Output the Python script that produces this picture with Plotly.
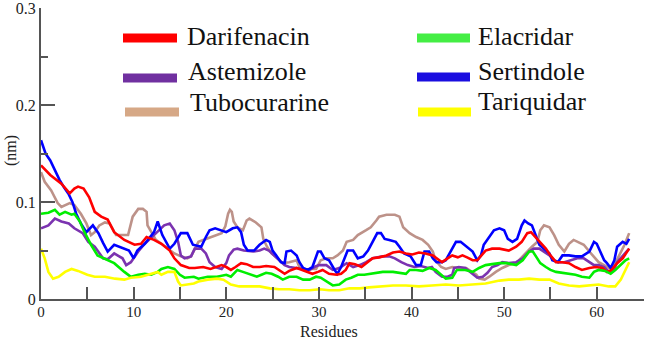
import plotly.graph_objects as go

# ---------------- data ----------------
darifenacin = [(0,0.138),(0.5,0.133),(1,0.128),(2.2,0.119),(3.1,0.109),(3.6,0.114),(4,0.116),(4.6,0.114),
    (5.2,0.105),(5.8,0.090),(6.5,0.085),(7.2,0.082),(7.9,0.069),(9,0.061),(10.1,0.056),(10.8,0.057),
    (11.4,0.064),(12.2,0.061),(13,0.057),(13.9,0.050),(14.4,0.042),(15.1,0.035),(16,0.032),(16.6,0.032),
    (17.5,0.033),(18.3,0.031),(19,0.033),(19.5,0.035),(20,0.033),(20.5,0.030),(21,0.033),(21.6,0.037),
    (22.2,0.036),(22.9,0.033),(23.6,0.033),(24.3,0.034),(25.2,0.033),(25.7,0.030),(26.3,0.026),(26.8,0.029),
    (27.6,0.032),(28.2,0.030),(28.8,0.028),(29.3,0.026),(29.9,0.028),(30.4,0.030),(31.1,0.026),(31.9,0.025),
    (32.4,0.026),(32.9,0.030),(33.3,0.037),(33.9,0.036),(34.6,0.033),(35.1,0.037),(35.8,0.042),(36.5,0.043),
    (37.3,0.045),(38,0.048),(38.7,0.049),(39.4,0.047),(40.1,0.046),(40.8,0.048),(41.5,0.047),(42.3,0.045),
    (43,0.040),(43.3,0.038),(43.9,0.042),(44.4,0.045),(45,0.043),(45.5,0.045),(46,0.043),(46.6,0.040),
    (47.1,0.040),(47.5,0.044),(48,0.050),(48.7,0.052),(49.5,0.052),(50.5,0.050),(51.3,0.054),(51.9,0.059),
    (52.5,0.068),(52.9,0.069),(53.2,0.066),(53.8,0.059),(54.5,0.052),(55,0.045),(55.6,0.038),(56.3,0.038),
    (57,0.037),(57.7,0.033),(58.4,0.030),(59.2,0.032),(59.9,0.033),(60.6,0.032),(61.1,0.028),(61.6,0.030),
    (62.2,0.037),(62.8,0.042),(63.3,0.049),(63.5,0.052)]

astemizole = [(0,0.073),(0.8,0.076),(1.5,0.083),(2.2,0.080),(3,0.078),(3.6,0.073),(4.5,0.068),(5.1,0.059),
    (5.8,0.054),(6.7,0.042),(7.2,0.041),(7.9,0.047),(8.8,0.042),(9.2,0.035),(9.7,0.038),(10.5,0.049),
    (11.2,0.057),(12.2,0.066),(12.8,0.071),(13.3,0.076),(13.9,0.078),(14.4,0.071),(14.8,0.059),(15.1,0.045),
    (15.5,0.042),(16.2,0.044),(16.6,0.052),(17.3,0.052),(17.8,0.047),(18.2,0.038),(18.8,0.033),(19.5,0.031),
    (20,0.037),(20.3,0.045),(20.8,0.051),(21.2,0.052),(21.9,0.050),(22.9,0.049),(23.6,0.050),(24.1,0.052),
    (24.6,0.050),(25.2,0.045),(25.7,0.040),(26.3,0.035),(26.8,0.033),(27.6,0.032),(28.3,0.031),(29,0.030),
    (29.5,0.033),(30,0.035),(30.8,0.035),(31.5,0.030),(32.2,0.032),(33,0.037),(33.7,0.033),(34.4,0.035),
    (35.1,0.038),(35.8,0.042),(36.9,0.044),(37.6,0.044),(38.2,0.042),(38.9,0.038),(39.6,0.035),(40.3,0.033),
    (41,0.034),(41.8,0.032),(42.2,0.033),(42.6,0.028),(43,0.025),(43.3,0.023),(43.9,0.023),(44.4,0.025),
    (44.6,0.032),(45.1,0.033),(45.8,0.032),(46.6,0.026),(47.1,0.022),(47.7,0.023),(48.2,0.027),(48.7,0.033),
    (49.3,0.035),(49.8,0.038),(50.5,0.037),(51.3,0.038),(52,0.042),(52.7,0.049),(53.2,0.052),(53.8,0.052),
    (54.3,0.049),(54.9,0.045),(55.4,0.040),(55.9,0.038),(56.5,0.038),(57.2,0.040),(57.9,0.042),(58.6,0.042),
    (59.2,0.038),(59.7,0.035),(60.2,0.035),(60.8,0.033),(61.3,0.028),(61.8,0.029),(62.2,0.038),(62.8,0.045),
    (63.5,0.052)]

tubocurarine = [(0,0.131),(0.4,0.121),(1.1,0.112),(1.8,0.099),(2.2,0.095),(3.1,0.099),(3.6,0.097),(4.3,0.088),
    (4.9,0.078),(5.4,0.066),(5.8,0.069),(6.3,0.076),(6.9,0.079),(7.4,0.078),(8.1,0.066),(9,0.066),(9.4,0.066),
    (9.9,0.085),(10.5,0.093),(11,0.093),(11.4,0.090),(11.5,0.076),(12,0.068),(12.4,0.061),(13,0.057),
    (13.7,0.052),(14.4,0.047),(15.1,0.044),(15.8,0.042),(16.2,0.044),(16.6,0.052),(17,0.059),(17.8,0.062),
    (18.3,0.064),(19.5,0.068),(19.9,0.075),(20.2,0.088),(20.4,0.092),(20.6,0.090),(20.8,0.080),(21.2,0.074),
    (21.8,0.071),(22.2,0.081),(22.5,0.083),(23.2,0.079),(23.8,0.074),(24,0.062),(24.4,0.054),(24.9,0.047),
    (25.4,0.043),(26.1,0.037),(26.8,0.038),(27.6,0.040),(27.9,0.033),(28.4,0.030),(29,0.031),(29.7,0.031),
    (30.2,0.040),(30.8,0.042),(31.5,0.042),(32,0.045),(32.6,0.050),(33,0.059),(33.7,0.061),(34.2,0.066),
    (35.1,0.071),(35.6,0.074),(36.2,0.081),(36.5,0.085),(37.3,0.087),(38.2,0.087),(38.7,0.085),(39.1,0.074),
    (39.8,0.068),(40.5,0.064),(41.2,0.061),(41.8,0.056),(42.3,0.049),(42.6,0.040),(43.2,0.033),(43.7,0.031),
    (44.4,0.033),(45.1,0.032),(45.9,0.032),(46.4,0.029),(47,0.025),(47.3,0.021),(47.9,0.020),(48.4,0.023),
    (49.1,0.028),(49.8,0.032),(50.5,0.035),(51.3,0.037),(52,0.044),(52.5,0.050),(53,0.054),(53.6,0.059),
    (53.9,0.071),(54.3,0.076),(54.9,0.074),(55.4,0.066),(55.9,0.056),(56.5,0.049),(57,0.057),(57.5,0.061),
    (58.1,0.058),(58.6,0.056),(59.2,0.049),(59.7,0.044),(60.2,0.038),(60.8,0.035),(61.3,0.032),(61.9,0.035),
    (62.4,0.044),(63,0.056),(63.5,0.068)]

elacridar = [(0,0.088),(0.8,0.089),(1.5,0.092),(2,0.087),(2.6,0.090),(3.3,0.087),(3.6,0.088),(4.2,0.080),
    (4.7,0.069),(5.4,0.056),(6.1,0.045),(6.8,0.042),(7.9,0.037),(9,0.028),(9.7,0.023),(10.5,0.025),
    (11.2,0.026),(11.9,0.025),(12.6,0.028),(13,0.031),(13.7,0.033),(14.4,0.031),(15,0.025),(15.5,0.022),
    (16.5,0.023),(17,0.021),(18,0.023),(19,0.023),(20,0.025),(20.5,0.023),(20.8,0.026),(21.2,0.030),
    (21.8,0.028),(22.7,0.025),(23.3,0.023),(23.8,0.025),(24.3,0.027),(24.9,0.026),(25.6,0.023),(26.1,0.020),
    (26.8,0.023),(27.6,0.023),(28.3,0.020),(29,0.020),(29.7,0.023),(30.2,0.022),(30.8,0.018),(31.5,0.014),
    (32.2,0.015),(32.9,0.020),(33.5,0.022),(34.2,0.025),(34.9,0.025),(35.8,0.026),(36.9,0.028),(38,0.028),
    (38.9,0.027),(39.4,0.026),(39.8,0.030),(40.5,0.030),(41.2,0.029),(41.9,0.032),(42.6,0.030),(43.2,0.025),
    (43.7,0.021),(44.4,0.022),(44.9,0.030),(45.8,0.030),(46.6,0.028),(47.3,0.032),(48,0.035),(48.7,0.036),
    (49.5,0.037),(50.3,0.037),(51.3,0.035),(52,0.040),(52.4,0.045),(52.7,0.049),(53.1,0.049),(53.4,0.044),
    (53.9,0.037),(54.5,0.033),(55,0.030),(55.6,0.028),(56.3,0.027),(57,0.026),(57.7,0.025),(58.4,0.023),
    (59.2,0.022),(59.7,0.028),(60.2,0.030),(60.9,0.029),(61.5,0.026),(62,0.030),(62.6,0.035),(63.1,0.040),
    (63.5,0.042)]

sertindole = [(0,0.164),(0.5,0.150),(1,0.143),(2,0.123),(2.5,0.115),(3,0.108),(3.4,0.100),(3.8,0.088),
    (4.3,0.078),(4.9,0.069),(5.6,0.076),(6.2,0.068),(6.7,0.058),(7.2,0.049),(7.9,0.056),(9,0.052),
    (9.5,0.050),(10,0.042),(10.4,0.050),(11.2,0.057),(12.2,0.069),(12.6,0.080),(13.1,0.066),(13.9,0.052),
    (14.4,0.057),(15.1,0.068),(15.8,0.068),(16.4,0.056),(17.3,0.054),(17.8,0.064),(18.2,0.071),(18.8,0.073),
    (19.5,0.071),(20,0.069),(20.7,0.073),(21.2,0.074),(21.6,0.069),(21.9,0.056),(22.3,0.050),(23,0.050),
    (23.6,0.056),(24.3,0.061),(24.7,0.059),(25,0.050),(25.4,0.045),(25.9,0.038),(26.3,0.037),(26.5,0.049),
    (27,0.050),(27.6,0.045),(27.9,0.038),(28.3,0.032),(28.8,0.030),(29.3,0.033),(29.9,0.049),(30.2,0.049),
    (30.6,0.042),(31.1,0.040),(31.7,0.030),(32,0.026),(32.4,0.033),(32.8,0.044),(33.1,0.050),(33.7,0.050),
    (34.2,0.042),(34.8,0.044),(35.3,0.050),(35.8,0.059),(36.3,0.068),(36.7,0.068),(37.1,0.062),(37.6,0.061),
    (38.3,0.059),(38.7,0.054),(39.2,0.047),(39.9,0.044),(40.5,0.035),(41,0.035),(41.4,0.049),(41.9,0.049),
    (42.3,0.042),(42.7,0.038),(43.3,0.038),(43.7,0.040),(44.4,0.052),(44.8,0.059),(45.3,0.059),(45.9,0.054),
    (46.6,0.049),(47.1,0.040),(47.5,0.045),(47.8,0.056),(48.4,0.064),(48.9,0.071),(49.5,0.073),(50,0.071),
    (50.4,0.062),(50.9,0.059),(51.4,0.062),(51.9,0.076),(52.2,0.081),(52.6,0.078),(53,0.076),(53.4,0.066),
    (53.8,0.056),(54.3,0.052),(54.9,0.047),(55.2,0.040),(55.8,0.038),(56.3,0.045),(57,0.045),(57.7,0.044),
    (58.4,0.044),(59.2,0.049),(59.7,0.059),(60,0.057),(60.4,0.049),(60.8,0.040),(61.1,0.037),(61.5,0.032),
    (61.9,0.040),(62.2,0.054),(62.8,0.059),(63.2,0.057),(63.5,0.062)]

tariquidar = [(0,0.052),(0.4,0.042),(0.8,0.028),(1.3,0.021),(1.9,0.023),(2.6,0.028),(3.3,0.031),(4,0.029),
    (5,0.025),(5.8,0.023),(6.9,0.023),(8,0.021),(9,0.020),(9.7,0.022),(10.8,0.023),(11.5,0.025),(12.6,0.028),
    (13,0.025),(13.7,0.028),(14.4,0.028),(14.8,0.018),(15.1,0.014),(15.8,0.015),(16.5,0.016),(17,0.018),
    (18,0.020),(19,0.021),(19.7,0.020),(20.5,0.015),(21.4,0.013),(22.5,0.013),(23.6,0.013),(24.7,0.011),
    (25.7,0.010),(26.8,0.010),(27.9,0.009),(29,0.009),(30.1,0.010),(31.1,0.009),(32.2,0.009),(33.3,0.011),
    (34.4,0.011),(35.4,0.012),(36.5,0.013),(38,0.014),(39.4,0.014),(40.8,0.013),(42.2,0.014),(43.7,0.015),
    (45.1,0.014),(46.6,0.015),(48,0.016),(49.5,0.019),(50.5,0.020),(51.6,0.020),(52.7,0.021),(53.8,0.020),
    (54.9,0.020),(55.9,0.016),(57,0.014),(58.1,0.013),(59.2,0.014),(60.2,0.015),(61.3,0.013),(62,0.013),
    (62.6,0.020),(62.9,0.026),(63.5,0.038)]

series_names = ["Darifenacin", "Astemizole", "Tubocurarine", "Elacridar", "Sertindole", "Tariquidar"]
series_data = [darifenacin, astemizole, tubocurarine, elacridar, sertindole, tariquidar]

x_tickvals = [0, 10, 20, 30, 40, 50, 60]
y_tickvals = [0, 0.1, 0.2, 0.3]
y_ticktext = ["0", "0.1", "0.2", "0.3"]

# ---------------- styles ----------------
line_colors = ["#ff0000", "#7b33b0", "#bd9289", "#00ee00", "#0000ff", "#ffff00"]
legend_colors = ["#ff0000", "#7030a0", "#d6a886", "#44ee44", "#1a0ee0", "#ffff00"]
draw_order = [2, 1, 4, 0, 3, 5]  # z-order of traces

W, H = 645, 341
ML, MR, MT, MB = 41, 1, 8, 42
PW, PH = W - ML - MR, H - MT - MB
FONT = ("'Liberation Serif', 'Tinos', 'DejaVu Serif', 'Noto Serif', 'FreeSerif', "
        "'Nimbus Roman', 'Times New Roman', Times, serif")
AXC = "#555555"

def px(xp):
    return (xp - ML) / PW

def py(yp):
    return (H - MB - yp) / PH

fig = go.Figure()
for i in draw_order:
    pts = series_data[i]
    fig.add_trace(go.Scatter(
        x=[p[0] for p in pts], y=[p[1] for p in pts], mode="lines",
        name=series_names[i], line=dict(color=line_colors[i], width=2.6),
        showlegend=False, hoverinfo="skip"))

# manual legend (sample line pixel positions, text positions)
legend_layout = [
    # (line x0, line x1, line y, text x, text y)
    (123, 177, 38, 186, 37),
    (123, 177, 78, 187, 71),
    (125, 179, 112, 189, 103),
    (417, 470, 38, 477, 37),
    (417, 470, 77, 477, 71),
    (418, 471, 112, 477, 102),
]
shapes = []
annotations = []
for i, (x0, x1, yl, xt, yt) in enumerate(legend_layout):
    shapes.append(dict(type="line", xref="paper", yref="paper",
                       x0=px(x0), x1=px(x1), y0=py(yl), y1=py(yl),
                       line=dict(color=legend_colors[i], width=9)))
    annotations.append(dict(text=series_names[i], xref="paper", yref="paper",
                            x=px(xt), y=py(yt), xanchor="left", yanchor="middle",
                            showarrow=False, borderpad=0,
                            font=dict(family=FONT, size=26, color="#111111")))

annotations.append(dict(text="Residues", xref="paper", yref="paper", x=px(329), y=py(340.5),
                        xanchor="center", yanchor="bottom", showarrow=False, borderpad=0,
                        font=dict(family=FONT, size=16, color="#222222")))
annotations.append(dict(text="(nm)", xref="paper", yref="paper", x=px(11), y=py(151),
                        xanchor="center", yanchor="middle", showarrow=False, textangle=-90,
                        font=dict(family=FONT, size=16, color="#222222")))

fig.update_layout(
    width=W, height=H, margin=dict(l=ML, r=MR, t=MT, b=MB, autoexpand=False),
    paper_bgcolor="white", plot_bgcolor="white",
    shapes=shapes, annotations=annotations, showlegend=False,
    xaxis=dict(range=[0, 65.1], tickvals=x_tickvals, ticks="inside", ticklen=12, tickwidth=2,
               tickcolor=AXC, showline=True, linecolor=AXC, linewidth=2, showgrid=False,
               zeroline=False, automargin=False, ticklabeloverflow="allow", ticklabelstandoff=-2,
               tickfont=dict(family=FONT, size=15, color="#222222"),
               minor=dict(dtick=5, tick0=0, ticks="inside", ticklen=12, tickwidth=2, tickcolor=AXC)),
    yaxis=dict(range=[0, 0.3004], tickvals=y_tickvals, ticktext=y_ticktext, ticks="inside",
               ticklen=14, tickwidth=2, tickcolor=AXC, showline=True, linecolor=AXC, linewidth=2,
               showgrid=False, zeroline=False, automargin=False, ticklabeloverflow="allow",
               tickfont=dict(family=FONT, size=16, color="#222222"),
               minor=dict(dtick=0.05, tick0=0, ticks="inside", ticklen=7, tickwidth=2, tickcolor=AXC)),
)

fig.write_html("out.html", config={"displayModeBar": False},
               post_script="document.body.style.margin='0';document.body.style.overflow='hidden';")
